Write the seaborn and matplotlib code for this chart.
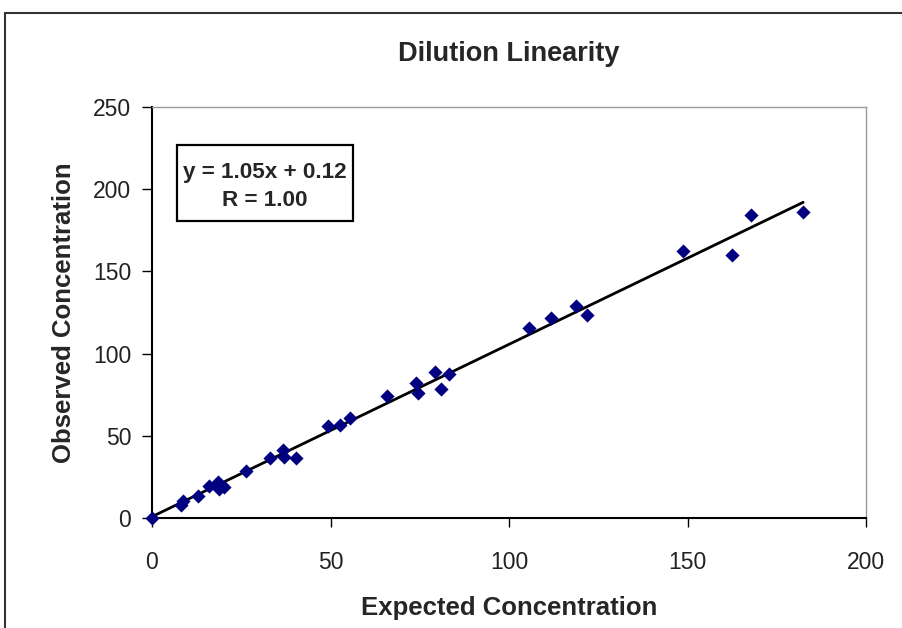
import matplotlib
matplotlib.use("Agg")
import matplotlib.pyplot as plt
from matplotlib.patches import Rectangle
import seaborn as sns
import pandas as pd

# values
expected = [0.0, 8.0, 8.8, 12.8, 16.1, 18.6, 18.9, 20.2, 26.3, 33.1, 36.8, 37.0,
            40.3, 49.4, 52.7, 55.5, 65.7, 73.9, 74.6, 79.3, 80.9, 83.3, 105.7,
            111.7, 118.8, 121.8, 148.7, 162.4, 167.7, 182.4]
observed = [0.0, 7.9, 10.3, 13.6, 19.6, 22.1, 17.5, 19.0, 28.6, 36.7, 41.4, 36.9,
            36.5, 56.0, 56.6, 61.0, 74.2, 82.3, 75.9, 88.6, 78.3, 87.4, 115.4,
            121.8, 129.1, 123.5, 162.4, 159.8, 184.3, 186.3]
x_ticks = [0, 50, 100, 150, 200]
y_ticks = [0, 50, 100, 150, 200, 250]
fit_text = "y = 1.05x + 0.12\nR = 1.00"

df = pd.DataFrame({"Expected Concentration": expected,
                   "Observed Concentration": observed})

sns.set_style("white")
plt.rcParams["font.family"] = ["Liberation Sans", "DejaVu Sans"]

fig = plt.figure(figsize=(9.02, 6.28), dpi=100)
ax = fig.add_axes([152 / 902, 1 - 518 / 628, 714 / 902, 411 / 628])

sns.regplot(data=df, x="Expected Concentration", y="Observed Concentration",
            ax=ax, ci=None, truncate=True, marker="D",
            scatter_kws={"color": "#000080", "s": 52, "linewidths": 0, "alpha": 1,
                         "zorder": 3, "clip_on": False},
            line_kws={"color": "black", "linewidth": 2, "zorder": 2})

ax.set_xlim(0, 200)
ax.set_ylim(0, 250)
ax.set_xticks(x_ticks)
ax.set_yticks(y_ticks)
ax.tick_params(axis="x", direction="out", length=6.5, width=1, color="black",
               labelsize=16.5, pad=17, bottom=True)
ax.tick_params(axis="y", direction="out", length=7, width=1, color="black",
               labelsize=16.5, pad=8, left=True)
for lab in ax.get_xticklabels() + ax.get_yticklabels():
    lab.set_color("#222222")

for side in ["left", "bottom"]:
    ax.spines[side].set_color("black")
    ax.spines[side].set_linewidth(1.5)
for side in ["top", "right"]:
    ax.spines[side].set_color("#999999")
    ax.spines[side].set_linewidth(1)

ax.set_xlabel("Expected Concentration", fontsize=18.5, fontweight="bold", labelpad=16)
ax.set_ylabel("Observed Concentration", fontsize=18.5, fontweight="bold", labelpad=12)
ax.set_title("Dilution Linearity", fontsize=19.5, fontweight="bold", pad=33)

# equation box
ax.add_patch(Rectangle((0.035, 0.7226), 0.2465, 0.1849, transform=ax.transAxes,
                       facecolor="white", edgecolor="black", linewidth=1.6, zorder=4))
ax.text(0.158, 0.807, fit_text, transform=ax.transAxes, ha="center", va="center",
        fontsize=16.2, fontweight="bold", linespacing=1.4, zorder=5)

# outer chart border, cut off at the right and bottom like the reference
fig.patches.append(Rectangle((5 / 902, -0.1), 1.2, 1.1 - 12.7 / 628,
                             transform=fig.transFigure, fill=False,
                             edgecolor="#333333", linewidth=1.5))

fig.savefig("out.png", dpi=100)
